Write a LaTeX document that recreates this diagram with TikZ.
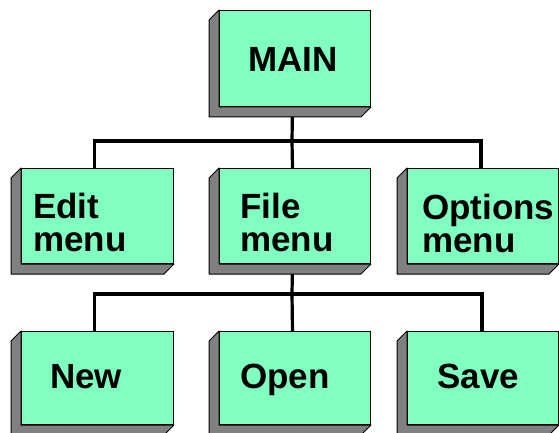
\documentclass[tikz,border=0pt]{standalone}
\usepackage{fontspec}
\setmainfont{Liberation Sans}
\pgfdeclarelayer{background}
\pgfsetlayers{background,main}
\definecolor{boxgreen}{RGB}{128,255,192}
\definecolor{shadowgray}{RGB}{128,128,128}
\tikzset{
  boxface/.style={rectangle, draw=black, line width=1pt, fill=boxgreen, inner sep=0pt},
  boxshadow/.style={draw=black, line width=1pt, fill=shadowgray, line join=round},
  conn/.style={draw=black, line width=3.2pt},
  txt/.style={inner sep=0pt, font=\fontsize{35pt}{33pt}\selectfont\bfseries, align=left, text=black},
}
\newcommand{\menubox}[5]{%
  \node[boxface, anchor=north west, minimum width=#4pt, minimum height=#5pt] (#1) at (#2,#3) {};
  \draw[boxshadow] (#1.north west) -- ++(-10,10) -- ([shift={(-10,10)}]#1.south west)
     -- ([shift={(-10,10)}]#1.south east) -- (#1.south east) -- (#1.south west) -- cycle;
}
\begin{document}
\begin{tikzpicture}[x=1pt,y=-1pt]
\useasboundingbox (0,0) rectangle (559,433);
\clip (0,0) rectangle (559,433);
% boxes
\menubox{main}{219}{10}{151}{96}
\menubox{edit}{21}{168}{152}{95}
\menubox{file}{219}{168}{151}{95}
\menubox{opts}{407}{168}{151}{95}
\menubox{new}{21}{331}{152}{93}
\menubox{open}{219}{331}{151}{93}
\menubox{save}{407}{331}{151}{93}
% junctions
\coordinate (j1) at (292,141);
\coordinate (j2) at (292,294);
% connectors
\begin{pgfonlayer}{background}
  \fill[white] (0,0) rectangle (559,433);
  \draw[conn] ([xshift=-2.5pt]main.south) -- (j1);
  \draw[conn] ([xshift=-3pt]edit.north) |- (j1) -| ([xshift=-2pt]opts.north);
  \draw[conn] ([xshift=-2.5pt]file.north) -- (j1);
  \draw[conn] ([xshift=-2.5pt]file.south) -- (j2);
  \draw[conn] ([xshift=-3pt]new.north) |- (j2) -| ([xshift=-1pt]save.north);
  \draw[conn] ([xshift=-2.5pt]open.north) -- (j2);
\end{pgfonlayer}
% texts
\node[txt, anchor=base west] (tmain) at (248,72) {MAIN};
\node[txt, anchor=north west] (tedit) at (33,193) {Edit\\menu};
\node[txt, anchor=north west] (tfile) at (240,193) {File\\menu};
\node[txt, anchor=north west] (topts) at (422,194) {Options\\menu};
\node[txt, anchor=base west] (tnew) at (50,388) {New};
\node[txt, anchor=base west] (topen) at (240,388) {Open};
\node[txt, anchor=base west] (tsave) at (437,388) {Save};
\end{tikzpicture}
\end{document}
